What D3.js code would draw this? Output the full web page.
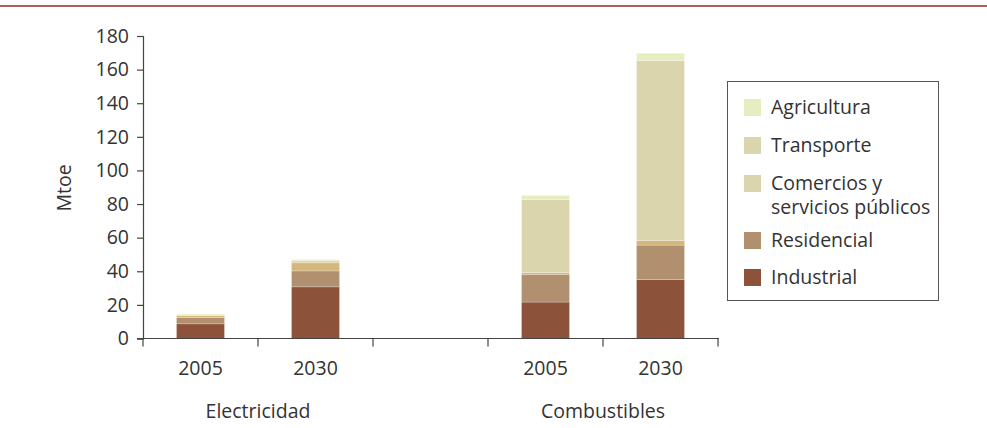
<!DOCTYPE html>
<html><head><meta charset="utf-8">
<script src="https://cdn.jsdelivr.net/npm/d3@7"></script>
<style>
body{margin:0;background:#fff;}
text{font-family:"Open Sans","Noto Sans",sans-serif;fill:#333;}
</style></head>
<body><svg id="c" width="987" height="428"></svg>
<script>
// Data
const groups = ["Electricidad", "Combustibles"];
const years = ["2005", "2030"];
const slots = ["Electricidad|2005", "Electricidad|2030", "gap", "Combustibles|2005", "Combustibles|2030"];
const sectors = ["Industrial", "Residencial", "Comercios y servicios públicos", "Transporte", "Agricultura"];
const industrial  = [8.7, 30.7, 21.7, 35.0];
const residencial = [3.8, 9.5, 16.5, 20.6];
const comercios   = [1.2, 4.8, 1.0, 2.8];
const transporte  = [0.0, 1.2, 43.5, 107.0];
const agricultura = [0.8, 0.8, 2.4, 4.3];
const barKeys = ["Electricidad|2005", "Electricidad|2030", "Combustibles|2005", "Combustibles|2030"];
const yTicks = [0, 20, 40, 60, 80, 100, 120, 140, 160, 180];
const barColors = ["#8c533a", "#b0906e", "#d5b67b", "#dbd5ae", "#e6edc0"];
const legendOrder = ["Agricultura", "Transporte", "Comercios y servicios públicos", "Residencial", "Industrial"];
const legendLabels = [["Agricultura"], ["Transporte"], ["Comercios y", "servicios públicos"], ["Residencial"], ["Industrial"]];
const legendColors = ["#e6edc0", "#dbd5ae", "#dbd5ae", "#b0906e", "#8c533a"];

const FS = "19.5px";
const svg = d3.select("#c");
// top rule
svg.append("line").attr("x1",0).attr("x2",987).attr("y1",6).attr("y2",6)
  .attr("stroke","#8b2e22").attr("stroke-width",1.5);

const x = d3.scaleBand().domain(slots).range([143, 718]).padding(0);
const y = d3.scaleLinear().domain([0, 180]).range([338.5, 36]);
const barW = 48;

const series = [industrial, residencial, comercios, transporte, agricultura];
const rows = barKeys.map((k, i) => {
  const o = {key: k};
  sectors.forEach((s, j) => o[s] = series[j][i]);
  return o;
});
const stack = d3.stack().keys(sectors)(rows);

const g = svg.append("g");
stack.forEach((layer, j) => {
  g.selectAll(null).data(layer).enter().append("rect")
    .attr("x", d => x(d.data.key) + x.bandwidth()/2 - barW/2)
    .attr("width", barW)
    .attr("y", d => y(d[1]))
    .attr("height", d => Math.max(0, y(d[0]) - y(d[1])))
    .attr("fill", barColors[j])
    .attr("stroke", "#fff").attr("stroke-width", 0.4).attr("stroke-opacity", 0.6);
});

// y axis
const ya = svg.append("g").attr("transform","translate(143,0)")
  .call(d3.axisLeft(y).tickValues(yTicks).tickSize(6).tickPadding(8));
ya.select(".domain").attr("stroke","#444").attr("stroke-width",1.2);
ya.selectAll(".tick line").attr("stroke","#444").attr("stroke-width",1.2);
ya.selectAll("text").style("font-size",FS).attr("fill","#333");

// x axis line and ticks
const xa = svg.append("g");
xa.append("line").attr("x1",137).attr("x2",719).attr("y1",y(0)).attr("y2",y(0))
  .attr("stroke","#444").attr("stroke-width",1.2);
const bounds = slots.map(s => x(s)).concat([x.range()[1]]);
xa.selectAll(null).data(bounds).enter().append("line")
  .attr("x1", d => d).attr("x2", d => d).attr("y1", y(0)).attr("y2", y(0)+8)
  .attr("stroke","#444").attr("stroke-width",1.2);
xa.selectAll(null).data(barKeys).enter().append("text")
  .attr("x", d => x(d) + x.bandwidth()/2).attr("y", 375)
  .attr("text-anchor","middle").style("font-size",FS)
  .text(d => d.split("|")[1]);
xa.selectAll(null).data(groups).enter().append("text")
  .attr("x", d => x(d + "|2030")).attr("y", 418)
  .attr("text-anchor","middle").style("font-size",FS)
  .text(d => d);

// y label
svg.append("text").attr("transform","translate(71,188) rotate(-90)")
  .attr("text-anchor","middle").style("font-size",FS).text("Mtoe");

// legend
svg.append("rect").attr("x",727.5).attr("y",81.5).attr("width",211).attr("height",219)
  .attr("fill","#fff").attr("stroke","#555").attr("stroke-width",1);
const ly = [107, 145, 183, 240, 277];
legendOrder.forEach((name, i) => {
  svg.append("rect").attr("x",744).attr("y",ly[i]-8).attr("width",17).attr("height",17)
    .attr("fill", legendColors[i]);
  legendLabels[i].forEach((t, k) => {
    svg.append("text").attr("x",771).attr("y",ly[i]+7+k*24)
      .style("font-size",FS).text(t);
  });
});
</script></body></html>
